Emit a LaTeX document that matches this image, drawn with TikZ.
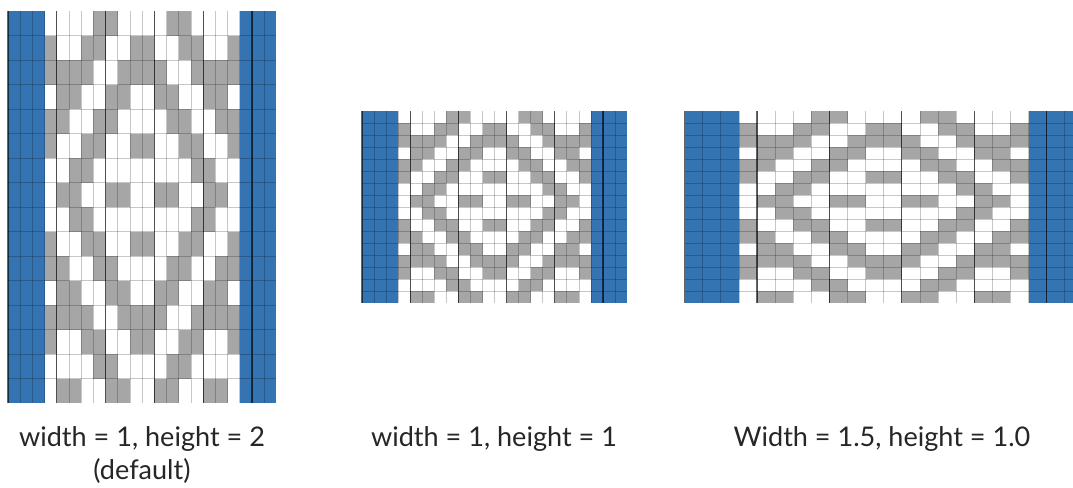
\documentclass[tikz,border=0pt]{standalone}
\usepackage{fontspec}
\setmainfont{Lato}
\usetikzlibrary{positioning}
\definecolor{warpblue}{HTML}{3474B3}
\definecolor{weftgray}{HTML}{A6A6A6}

% one draft: 3 warp columns each side, 16 x 16 pattern mirrored about the middle
\newcommand{\weavegrid}[4]{%
  \begin{scope}[shift={(#1,#2)}, xscale=#3, yscale=#4]
    \fill[warpcell] (0,0) rectangle (3,16);
    \fill[warpcell] (19,0) rectangle (22,16);
    \foreach \rowbits [count=\rw from 0] in {
        {0,0,0,0,1,1,0,0},{1,0,0,1,1,0,0,1},{1,1,1,1,0,0,1,1},{0,1,1,0,0,1,1,0},
        {1,1,0,0,1,1,0,0},{1,0,0,1,1,0,0,1},{0,0,1,1,0,0,0,0},{0,1,1,0,0,1,1,0},
        {0,0,1,1,0,0,0,0},{1,0,0,1,1,0,0,1},{1,1,0,0,1,1,0,0},{0,1,1,0,0,1,1,0},
        {1,1,1,1,0,0,1,1},{1,0,0,1,1,0,0,1},{0,0,0,0,1,1,0,0},{0,1,1,0,0,1,1,0}}{
      \foreach \bit [count=\cl from 0] in \rowbits {
        \ifnum\bit=1\relax
          \fill[weftcell] (3+\cl,\rw) rectangle ++(1,1);
          \fill[weftcell] (18-\cl,\rw) rectangle ++(1,1);
        \fi
      }
    }
    \foreach \cl in {1,...,21} \draw[gridline] (\cl,0) -- (\cl,16);
    \foreach \rw in {1,...,15} \draw[gridline] (0,\rw) -- (22,\rw);
    \foreach \cl in {0,4,...,20} \draw[groupline] (\cl,0) -- (\cl,16);
  \end{scope}
}

\begin{document}
\begin{tikzpicture}[
    x=0.75pt, y=-0.75pt,
    warpcell/.style={fill=warpblue},
    weftcell/.style={fill=weftgray},
    gridline/.style={draw=black, opacity=0.22, line width=0.6pt},
    groupline/.style={draw=black, opacity=0.6, line width=0.9pt},
    caption/.style={font=\fontsize{20.3}{24}\selectfont, text=black!85, inner sep=0pt, anchor=base},
]
    \clip (0,0) rectangle (1073,487);
    \useasboundingbox (0,0) rectangle (1073,487);

    \weavegrid{8}{11}{12.2}{24.5}
    \weavegrid{362}{111}{12.05}{12}
    \weavegrid{684.6}{111}{18.1}{12}

    \node[caption] (cap1) at (142,446) {width = 1, height = 2};
    \node[caption] (capdef) at (142,479) {(default)};
    \node[caption] (cap2) at (494,446) {width = 1, height = 1};
    \node[caption] (cap3) at (882,446) {Width = 1.5, height = 1.0};
\end{tikzpicture}
\end{document}
